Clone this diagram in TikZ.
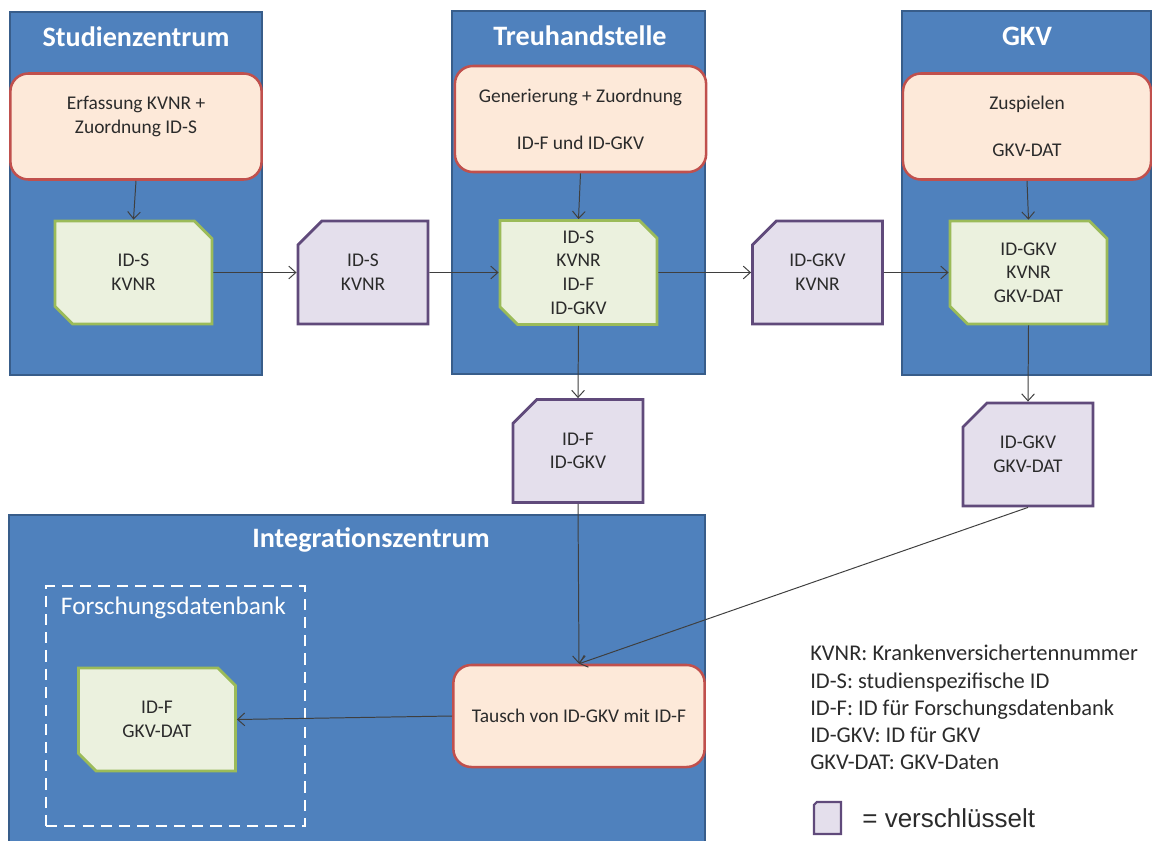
\documentclass[tikz,border=0pt]{standalone}
\usepackage{fontspec}
\setmainfont{Carlito}
\newfontfamily\arialfont{Liberation Sans}
\usetikzlibrary{arrows.meta,shapes.misc,positioning}
\definecolor{orgfill}{HTML}{4F81BD}
\definecolor{orgline}{HTML}{385D8A}
\definecolor{stepfill}{HTML}{FDE9D9}
\definecolor{stepline}{HTML}{C0504D}
\definecolor{datafill}{HTML}{EBF1DE}
\definecolor{dataline}{HTML}{9BBB59}
\definecolor{cryptfill}{HTML}{E4DFEC}
\definecolor{cryptline}{HTML}{604A7B}
\definecolor{textgray}{HTML}{2B2B2B}
\definecolor{flowgray}{HTML}{3F3F3F}
\tikzset{
  org/.style={draw=orgline,line width=1.4pt,fill=orgfill,rectangle,minimum width=6.3cm,minimum height=9.075cm},
  orgtitle/.style={text=white,font=\fontsize{20}{24}\selectfont\bfseries},
  process/.style={draw=stepline,line width=1.8pt,fill=stepfill,rounded corners=0.45cm,minimum width=6.28cm,minimum height=2.65cm,align=center,text=textgray,font=\fontsize{13.8}{16.8}\selectfont},
  card/.style={chamfered rectangle,inner sep=1pt,line width=2pt,minimum height=2.575cm,align=center,text=textgray,font=\fontsize{13.8}{16.8}\selectfont},
  datacard/.style={card,chamfered rectangle corners={north east,south west},chamfered rectangle sep=0.22cm,draw=dataline,fill=datafill,minimum width=3.925cm},
  cryptcard/.style={card,chamfered rectangle corners=north west,chamfered rectangle sep=0.3cm,draw=cryptline,fill=cryptfill,minimum width=3.25cm},
  flow/.style={draw=flowgray,line width=0.7pt,-{Straight Barb[length=5pt,width=9pt]}}
}
\begin{document}
\begin{tikzpicture}[x=0.025cm,y=-0.025cm]
\useasboundingbox (0,0) rectangle (1152,841);
\node[org] (studz) at (136,193.5) {};
\node[org] (treuh) at (578.5,192.5) {};
\node[org,minimum width=6.225cm] (gkv) at (1026.5,193) {};
\node[org,minimum width=17.4cm,minimum height=9cm] (integ) at (357,695) {};
\node[orgtitle] (studztitle) at (136,37) {Studienzentrum};
\node[orgtitle] (treuhtitle) at (580,36) {Treuhandstelle};
\node[orgtitle] (gkvtitle) at (1027,36) {GKV};
\node[orgtitle] (integtitle) at (371,540) {Integrationszentrum};
\node[draw=white,line width=2pt,dash pattern=on 8pt off 5pt,minimum width=6.475cm,minimum height=6cm] (fdb) at (175.5,706) {};
\node[anchor=west,text=white,font=\fontsize{18}{22}\selectfont] (fdbtitle) at (56,608) {Forschungsdatenbank};

\node[process] (erfassung) at (136,126.5) {Erfassung KVNR +\\Zuordnung ID-S\\~};
\node[process] (generierung) at (580.5,119) {Generierung + Zuordnung\\~\\ID-F und ID-GKV};
\node[process,minimum width=6.2cm] (zuspielen) at (1027,126.5) {Zuspielen\\~\\GKV-DAT};
\node[process,minimum height=2.55cm] (tausch) at (579,716) {Tausch von ID-GKV mit ID-F};

\node[datacard] (studdata) at (133.5,272.5) {ID-S\\KVNR};
\node[cryptcard] (sendstud) at (363,272.5) {ID-S\\KVNR};
\node[datacard] (treudata) at (578.5,272.5) {ID-S\\KVNR\\ID-F\\ID-GKV};
\node[cryptcard] (sendgkv) at (817.5,272.5) {ID-GKV\\KVNR};
\node[datacard] (gkvdata) at (1028.5,272.5) {ID-GKV\\KVNR\\GKV-DAT};
\node[cryptcard] (sendintf) at (578,451) {ID-F\\ID-GKV};
\node[cryptcard] (sendintg) at (1028,454.5) {ID-GKV\\GKV-DAT};
\node[datacard] (fdbdata) at (157,719.5) {ID-F\\GKV-DAT};

\draw[flow] (erfassung.south) -- (studdata.north);
\draw[flow] (studdata) -- (sendstud);
\draw[flow] (sendstud) -- (treudata);
\draw[flow] (generierung.south) -- (treudata.north);
\draw[flow] (treudata) -- (sendgkv);
\draw[flow] (sendgkv) -- (gkvdata);
\draw[flow] (zuspielen.south) -- (gkvdata.north);
\draw[flow] (treudata.south) -- (sendintf.north);
\draw[flow] (gkvdata.south) -- (sendintg.north);
\draw[flow] (sendintf.south) -- (tausch.north);
\draw[flow] (sendintg.south) -- (tausch.north);
\draw[flow] (tausch.west) -- (fdbdata.east);

\node[anchor=north west,align=left,inner sep=0,text=textgray,font=\fontsize{16}{19.3}\selectfont] (glossary) at (810,645) {KVNR: Krankenversichertennummer\\ID-S: studienspezifische ID\\ID-F: ID für Forschungsdatenbank\\ID-GKV: ID für GKV\\GKV-DAT: GKV-Daten};
\node[cryptcard,minimum width=0.675cm,minimum height=0.8cm,chamfered rectangle sep=0.08cm,line width=1.5pt] (cryptkey) at (827.5,818) {};
\node[right=0.5cm of cryptkey,inner sep=0,text=textgray,font=\arialfont\fontsize{18.5}{22}\selectfont] (cryptnote) {= verschlüsselt};
\end{tikzpicture}
\end{document}
